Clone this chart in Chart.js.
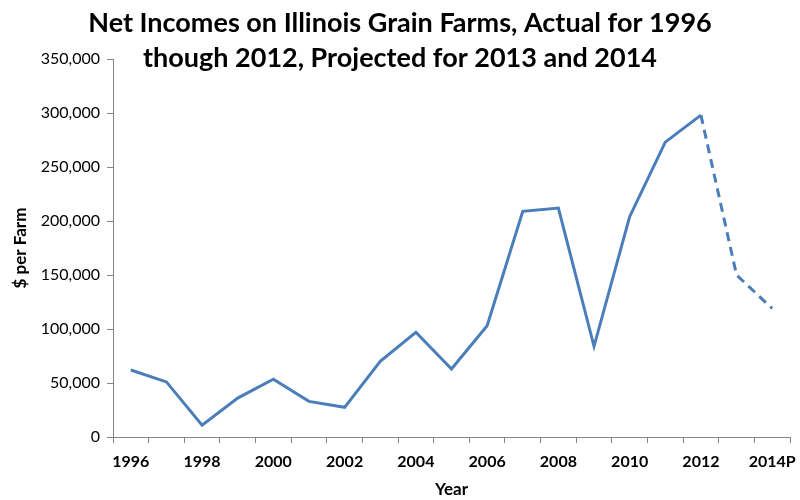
<!DOCTYPE html>
<html>
<head>
<meta charset="utf-8">
<script src="https://cdn.jsdelivr.net/npm/chart.js@4.4.1/dist/chart.umd.min.js"></script>
<style>
  html, body { margin: 0; padding: 0; background: #fff; }
  #wrap { width: 800px; height: 500px; position: relative; }
</style>
</head>
<body>
<div id="wrap"><canvas id="farmChart"></canvas></div>
<script>
// chart data
const years = ['1996', '1997', '1998', '1999', '2000', '2001', '2002', '2003', '2004', '2005',
               '2006', '2007', '2008', '2009', '2010', '2011', '2012', '2013P', '2014P'];
const netIncome = [62000, 51000, 11000, 36000, 53500, 33000, 27500, 70000, 97000, 63000,
                   103000, 209000, 212000, 84000, 204000, 273000, 298000, 150000, 119000];
const titleLines = ['Net Incomes on Illinois Grain Farms, Actual for 1996',
                    'though 2012, Projected for 2013 and 2014'];
const lastActual = 16; // index of 2012, after this it's projected

const FONT = 'Lato, "Open Sans", sans-serif';
const axisGray = '#868686';
const lineBlue = '#4a7ebb';

// title drawn by hand so it can overlap the top of the plot like the original
const titlePlugin = {
    id: 'bigTitle',
    afterDraw(chart) {
        const c = chart.ctx;
        c.save();
        c.font = 'bold 27px ' + FONT;
        c.fillStyle = '#000';
        c.textAlign = 'center';
        c.textBaseline = 'middle';
        c.fillText(titleLines[0], 400, 23);
        c.fillText(titleLines[1], 400, 58);
        c.restore();
    }
};

const ctx = document.getElementById('farmChart').getContext('2d');
const chart = new Chart(ctx, {
    type: 'line',
    data: {
        labels: years,
        datasets: [{
            label: 'Net income',
            data: netIncome,
            borderColor: lineBlue,
            borderWidth: 3,
            pointRadius: 0,
            tension: 0,
            fill: false,
            segment: {
                borderDash: s => s.p0DataIndex >= lastActual ? [9, 6] : undefined
            }
        }]
    },
    options: {
        responsive: true,
        maintainAspectRatio: false,
        animation: false,
        layout: { padding: { top: 59, right: 10, left: 8, bottom: 0 } },
        plugins: {
            legend: { display: false },
            title: { display: false },
            tooltip: { enabled: false }
        },
        scales: {
            x: {
                offset: true,
                grid: { offset: true, drawOnChartArea: false, tickLength: 6, color: axisGray },
                border: { color: axisGray, width: 1 },
                ticks: {
                    autoSkip: false,
                    maxRotation: 0,
                    padding: 9,
                    color: '#000',
                    font: { family: FONT, size: 16, weight: 'bold' },
                    callback: (v, i) => i % 2 === 0 ? years[i] : ''
                },
                title: {
                    display: true,
                    text: 'Year',
                    color: '#000',
                    font: { family: FONT, size: 17, weight: 'bold' },
                    padding: { top: 0, bottom: 0 }
                },
                afterFit: s => {
                    s.height = 63;
                    // let the 2014P label hang past the axis end like the original
                    s.paddingLeft = 0;
                    s.paddingRight = 0;
                }
            },
            y: {
                min: 0,
                max: 350000,
                grid: { drawOnChartArea: false, tickLength: 6, color: axisGray },
                border: { color: axisGray, width: 1 },
                ticks: {
                    stepSize: 50000,
                    padding: 7,
                    color: '#000',
                    font: { family: FONT, size: 16 },
                    callback: v => v.toLocaleString('en-US')
                },
                title: {
                    display: true,
                    text: '$ per Farm',
                    color: '#000',
                    font: { family: FONT, size: 17, weight: 'bold' },
                    padding: { top: 2, bottom: 4 }
                },
                afterFit: s => { s.width = 105; }
            }
        }
    },
    plugins: [titlePlugin]
});
</script>
</body>
</html>
